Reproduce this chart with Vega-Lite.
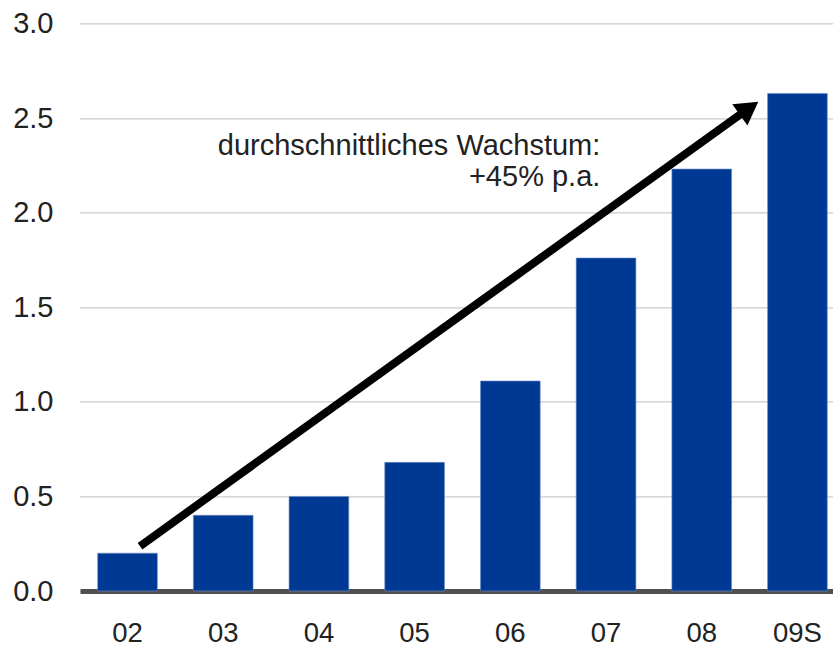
{
  "$schema": "https://vega.github.io/schema/vega-lite/v6.json",
  "width": 753,
  "height": 567.6,
  "autosize": {"type": "none"},
  "padding": {"left": 80, "top": 23.4, "right": 0, "bottom": 55},
  "background": "white",
  "config": {
    "view": {"stroke": null},
    "font": "Liberation Sans",
    "text": {"font": "Liberation Sans"}
  },
  "datasets": {
    "bars": [
      {"jahr": "02", "wert": 0.2},
      {"jahr": "03", "wert": 0.4},
      {"jahr": "04", "wert": 0.5},
      {"jahr": "05", "wert": 0.68},
      {"jahr": "06", "wert": 1.11},
      {"jahr": "07", "wert": 1.76},
      {"jahr": "08", "wert": 2.23},
      {"jahr": "09S", "wert": 2.63}
    ],
    "arrow": [{"x": 0.13, "y": 0.237, "x2": 6.452, "y2": 2.537}],
    "head": [{"x": 6.494, "y": 2.551}],
    "labels": [
      {"x": 4.94, "y": 2.304, "text": "durchschnittliches Wachstum:"},
      {"x": 4.94, "y": 2.138, "text": "+45% p.a."}
    ]
  },
  "layer": [
    {
      "data": {"name": "bars"},
      "mark": {"type": "bar", "color": "#003994", "stroke": "#6f8fc9", "strokeWidth": 0.6},
      "encoding": {
        "x": {
          "field": "jahr",
          "type": "nominal",
          "sort": null,
          "scale": {"paddingInner": 0.376, "paddingOuter": 0.122, "align": 0.756},
          "axis": {
            "title": null,
            "labelAngle": 0,
            "labelFontSize": 27.5,
            "labelColor": "#222222",
            "labelPadding": 50,
            "labelBaseline": "alphabetic",
            "ticks": false,
            "domain": true,
            "domainColor": "#505050",
            "domainWidth": 5,
            "domainCap": "butt"
          }
        },
        "y": {
          "field": "wert",
          "type": "quantitative",
          "scale": {"domain": [0, 3], "nice": false},
          "axis": {
            "title": null,
            "values": [0, 0.5, 1, 1.5, 2, 2.5, 3],
            "format": ".1f",
            "labelFontSize": 29,
            "labelColor": "#222222",
            "labelPadding": 27,
            "ticks": false,
            "domain": false,
            "grid": true,
            "gridColor": "#7a7a7a",
            "gridWidth": 1,
            "gridDash": [1, 1]
          }
        }
      }
    },
    {
      "data": {"name": "arrow"},
      "mark": {"type": "rule", "color": "black", "strokeWidth": 8, "strokeCap": "butt"},
      "encoding": {
        "x": {"field": "x", "type": "quantitative", "scale": {"domain": [-0.497, 7.371], "nice": false, "zero": false}, "axis": null},
        "x2": {"field": "x2"},
        "y": {"field": "y", "type": "quantitative"},
        "y2": {"field": "y2"}
      }
    },
    {
      "data": {"name": "head"},
      "mark": {"type": "point", "shape": "triangle-right", "filled": true, "color": "black", "opacity": 1, "size": 680, "angle": 324.5},
      "encoding": {
        "x": {"field": "x", "type": "quantitative", "scale": {"domain": [-0.497, 7.371], "nice": false, "zero": false}, "axis": null},
        "y": {"field": "y", "type": "quantitative"}
      }
    },
    {
      "data": {"name": "labels"},
      "mark": {"type": "text", "align": "right", "baseline": "alphabetic", "fontSize": 29, "color": "#222222"},
      "encoding": {
        "x": {"field": "x", "type": "quantitative", "scale": {"domain": [-0.497, 7.371], "nice": false, "zero": false}, "axis": null},
        "y": {"field": "y", "type": "quantitative"},
        "text": {"field": "text"}
      }
    }
  ],
  "resolve": {"scale": {"x": "independent"}, "axis": {"x": "independent"}}
}
